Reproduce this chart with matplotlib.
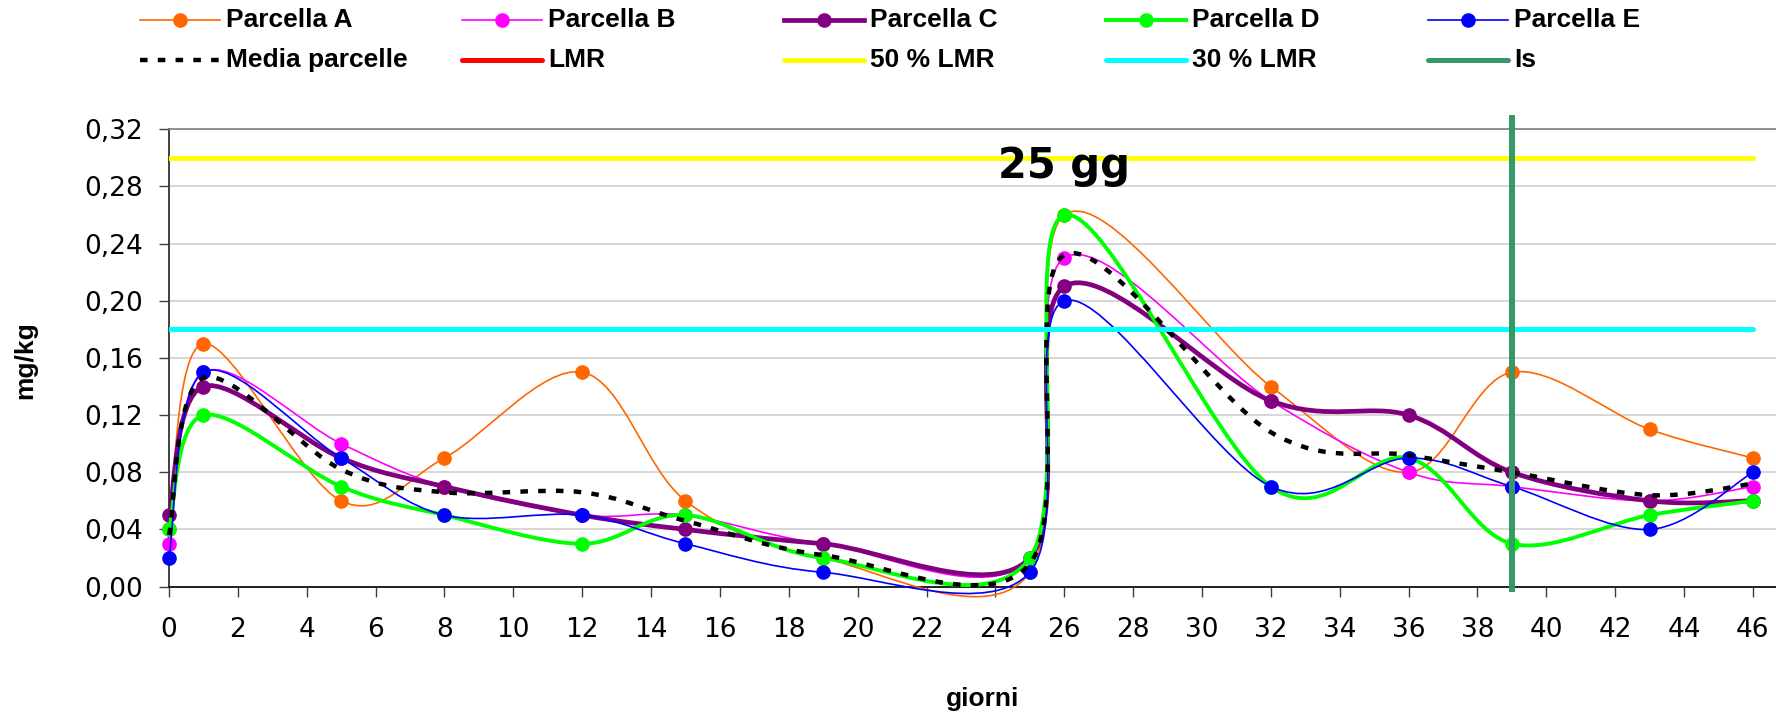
"""
Residui (mg/kg) nelle parcelle A-E nel tempo, con limiti LMR e intervallo di sicurezza
"""

import matplotlib
matplotlib.use('Agg')
import matplotlib.pyplot as plt
from matplotlib.path import Path
from matplotlib.patches import PathPatch
from matplotlib.lines import Line2D
import numpy as np

# Dati
giorni = [0, 1, 5, 8, 12, 15, 19, 25, 26, 32, 36, 39, 43, 46]
parcella_a = [0.04, 0.17, 0.06, 0.09, 0.15, 0.06, 0.02, 0.01, 0.26, 0.14, 0.08, 0.15, 0.11, 0.09]
parcella_b = [0.03, 0.15, 0.10, 0.07, 0.05, 0.05, 0.03, 0.02, 0.23, 0.13, 0.08, 0.07, 0.06, 0.07]
parcella_c = [0.05, 0.14, 0.09, 0.07, 0.05, 0.04, 0.03, 0.02, 0.21, 0.13, 0.12, 0.08, 0.06, 0.06]
parcella_d = [0.04, 0.12, 0.07, 0.05, 0.03, 0.05, 0.02, 0.02, 0.26, 0.07, 0.09, 0.03, 0.05, 0.06]
parcella_e = [0.02, 0.15, 0.09, 0.05, 0.05, 0.03, 0.01, 0.01, 0.20, 0.07, 0.09, 0.07, 0.04, 0.08]
media = [0.036, 0.146, 0.082, 0.066, 0.066, 0.046, 0.022, 0.016, 0.232, 0.108, 0.092, 0.080, 0.064, 0.072]

lmr = 0.60
lmr_50 = 0.30
lmr_30 = 0.18
giorno_is = 39
is_range = [-0.002, 0.328]

y_ticks = [0.00, 0.04, 0.08, 0.12, 0.16, 0.20, 0.24, 0.28, 0.32]
y_labels = ['0,00', '0,04', '0,08', '0,12', '0,16', '0,20', '0,24', '0,28', '0,32']
x_ticks = list(range(0, 47, 2))

ARIAL = 'Liberation Sans'


def smooth_path(xs, ys):
    """Curva liscia stile Excel (Bezier Catmull-Rom) tra i punti"""
    pts = np.column_stack([xs, ys]).astype(float)
    n = len(pts)
    verts = [pts[0]]
    codes = [Path.MOVETO]
    for i in range(n - 1):
        p0 = pts[max(i - 1, 0)]
        p1 = pts[i]
        p2 = pts[i + 1]
        p3 = pts[min(i + 2, n - 1)]
        c1 = p1 + (p2 - p0) / 6.0
        c2 = p2 - (p3 - p1) / 6.0
        verts += [c1, c2, p2]
        codes += [Path.CURVE4] * 3
    return Path(verts, codes)


series = [
    ('Parcella A', parcella_a, '#FF6600', 1.2),
    ('Parcella B', parcella_b, '#FF00FF', 1.2),
    ('Parcella C', parcella_c, '#800080', 3.4),
    ('Parcella D', parcella_d, '#00FF00', 2.8),
    ('Parcella E', parcella_e, '#0000FF', 1.2),
]
media_lw = 3.2
media_dash = (1.7, 2.3)

fig = plt.figure(figsize=(17.76, 7.16), dpi=100)
ax = fig.add_axes([169 / 1776, 1 - 586.6 / 716, 1 - 169 / 1776, (586.6 - 129.3) / 716])

for i, (name, vals, color, lw) in enumerate(series):
    patch = PathPatch(smooth_path(giorni, vals), facecolor='none', edgecolor=color,
                      lw=lw, zorder=3 + i, clip_on=False)
    ax.add_patch(patch)
    ax.plot(giorni, vals, 'o', color=color, markersize=9.5, zorder=3 + i, clip_on=False)

patch = PathPatch(smooth_path(giorni, media), facecolor='none', edgecolor='black',
                  lw=media_lw, linestyle=(0, media_dash), zorder=9, clip_on=False)
ax.add_patch(patch)

# Linee limite
ax.plot([0, 46], [lmr, lmr], color='#FF0000', lw=3.6, zorder=10)
ax.plot([0, 46], [lmr_50, lmr_50], color='#FFFF00', lw=3.6, zorder=10, solid_capstyle='round')
ax.plot([0, 46], [lmr_30, lmr_30], color='#00FFFF', lw=3.6, zorder=10, solid_capstyle='round')
ax.plot([giorno_is, giorno_is], is_range, color='#339966', lw=4.3, zorder=11, clip_on=False)

ax.text(26, 0.286, '25 gg', fontsize=30, fontweight='bold', ha='center', va='baseline', zorder=12)

# Assi
ax.set_xlim(0, 46.67)
ax.set_ylim(0, 0.32)
ax.set_xticks(x_ticks)
ax.set_xticklabels([str(t) for t in x_ticks])
ax.set_yticks(y_ticks)
ax.set_yticklabels(y_labels)
ax.tick_params(axis='both', labelsize=19, length=7, width=1, direction='out', color='#404040')
ax.tick_params(axis='y', pad=12)
ax.tick_params(axis='x', pad=15)
ax.yaxis.grid(True, color='#d0d0d0', lw=1.2)
ax.set_axisbelow(True)
ax.spines['right'].set_visible(False)
ax.spines['top'].set_color('#808080')
ax.spines['top'].set_linewidth(1.2)
ax.spines['left'].set_color('#404040')
ax.spines['left'].set_linewidth(1.4)
ax.spines['bottom'].set_color('#202020')
ax.spines['bottom'].set_linewidth(1.4)

fig.text(983 / 1776, 1 - 699 / 716, 'giorni', fontsize=19, fontweight='bold', family=ARIAL,
         ha='center', va='center')
fig.text(25 / 1776, 1 - 360 / 716, 'mg/kg', fontsize=19, fontweight='bold', family=ARIAL,
         ha='center', va='center', rotation=90)

# Legenda disegnata a mano (due righe, cinque colonne)
text_x = [226, 548, 870, 1192, 1514]
row_y = [20, 60]
legend_rows = [
    [(name, dict(color=c, lw=lw, marker='o', ms=9.5)) for name, _, c, lw in series],
    [('Media parcelle', dict(color='black', lw=media_lw, dashes=media_dash)),
     ('LMR', dict(color='#FF0000', lw=3.6, solid_capstyle='round')),
     ('50 % LMR', dict(color='#FFFF00', lw=3.6, solid_capstyle='round')),
     ('30 % LMR', dict(color='#00FFFF', lw=3.6, solid_capstyle='round')),
     ('Is', dict(color='#339966', lw=3.6, solid_capstyle='round'))],
]
for r, row in enumerate(legend_rows):
    yf = 1 - row_y[r] / 716
    for c, (label, style) in enumerate(row):
        x1 = (text_x[c] - 86) / 1776
        x2 = (text_x[c] - 6) / 1776
        style = dict(style)
        marker = style.pop('marker', None)
        ms = style.pop('ms', None)
        fig.add_artist(Line2D([x1, x2], [yf, yf], transform=fig.transFigure, **style))
        if marker:
            fig.add_artist(Line2D([(x1 + x2) / 2], [yf], transform=fig.transFigure,
                                  marker=marker, ms=ms, color=style['color'], linestyle='none'))
        fig.text(text_x[c] / 1776, yf, label, fontsize=19, fontweight='bold', family=ARIAL,
                 ha='left', va='center')

fig.savefig('out.png', dpi=100)
plt.close(fig)
